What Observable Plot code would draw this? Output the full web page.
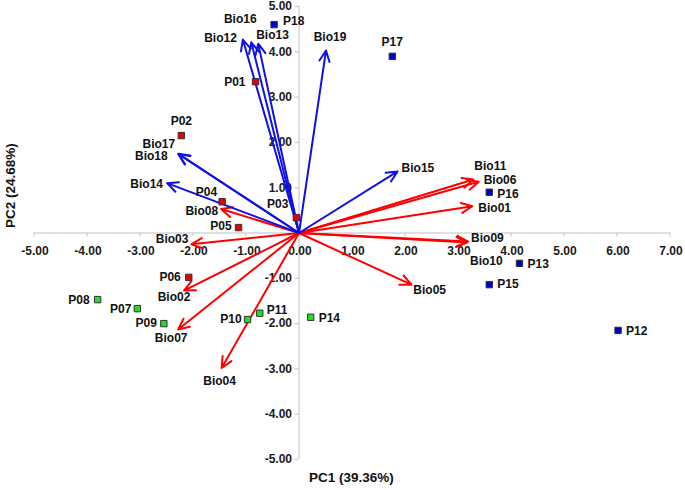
<!DOCTYPE html>
<html>
<head>
<meta charset="utf-8">
<script src="https://cdn.jsdelivr.net/npm/d3@7"></script>
<script src="https://cdn.jsdelivr.net/npm/@observablehq/plot@0.6"></script>
<style>
  html, body { margin: 0; padding: 0; background: #fff; }
  #chart svg { display: block; }
</style>
</head>
<body>
<div id="chart"></div>
<script>
// ---- Data: sample scores (PC1, PC2) ----
const sampleNames = ["P01","P02","P03","P04","P05","P06","P07","P08","P09","P10","P11","P12","P13","P14","P15","P16","P17","P18"];
const samplePC1 = [-0.82,-2.22,-0.05,-1.45,-1.14,-2.08,-3.05,-3.80,-2.55,-0.97,-0.74,6.02,4.16,0.22,3.59,3.59,1.76,-0.47];
const samplePC2 = [3.34,2.15,0.34,0.69,0.12,-0.98,-1.67,-1.47,-2.00,-1.91,-1.77,-2.15,-0.67,-1.86,-1.14,0.90,3.90,4.60];
const sampleGroup = ["red","red","red","red","red","red","green","green","green","green","green","blue","blue","green","blue","blue","blue","blue"];

// ---- Data: variable loadings (arrow ends) ----
const varNames = ["Bio01","Bio02","Bio03","Bio04","Bio05","Bio06","Bio07","Bio08","Bio09","Bio10","Bio11","Bio12","Bio13","Bio14","Bio15","Bio16","Bio17","Bio18","Bio19"];
const varPC1 = [3.27,-2.17,-2.03,-1.46,2.12,3.39,-2.28,-1.47,3.19,3.17,3.29,-1.06,-0.77,-2.49,1.86,-0.90,-2.28,-2.27,0.51];
const varPC2 = [0.59,-1.27,-0.25,-2.98,-1.14,1.13,-2.13,0.53,-0.19,-0.21,1.18,4.27,4.18,1.10,1.36,4.21,1.75,1.74,4.03];
const varType = ["temp","temp","temp","temp","temp","temp","temp","temp","temp","temp","temp","prec","prec","prec","prec","prec","prec","prec","prec"];

// ---- Axis ticks ----
const xTicks = [-5,-4,-3,-2,-1,0,1,2,3,4,5,6,7];
const yTicks = [-5,-4,-3,-2,-1,0,1,2,3,4,5];
const xTitle = "PC1 (39.36%)";
const yTitle = "PC2 (24.68%)";

// ---- Label placement (pixel offsets + anchor) ----
const sampleLabelPlace = {
  P01:[-10,0,"end"], P02:[0,-14,"middle"], P03:[-8,-13,"end"], P04:[-5,-10,"end"], P05:[-7,-1,"end"],
  P06:[-8,0,"end"], P07:[-6,1,"end"], P08:[-8,1,"end"], P09:[-7,0,"end"], P10:[-6,0,"end"],
  P11:[7,-3,"start"], P12:[8,1,"start"], P13:[8,1,"start"], P14:[8,1,"start"], P15:[8,0,"start"],
  P16:[8,2,"start"], P17:[0,-14,"middle"], P18:[9,-3,"start"]
};
const varLabelPlace = {
  Bio01:[6,2,"start"], Bio02:[-10,7,"middle"], Bio03:[-3,-5,"end"], Bio04:[-2,13,"middle"], Bio05:[2,6,"start"],
  Bio06:[5,-2,"start"], Bio07:[-7,9,"middle"], Bio08:[-3,2,"end"], Bio09:[3,-3,"start"], Bio10:[3,19,"start"],
  Bio11:[1,-13,"start"], Bio12:[-6,-1,"end"], Bio13:[-2,-8,"start"], Bio14:[-4,1,"end"], Bio15:[4,-3,"start"],
  Bio16:[-11,-23,"middle"], Bio17:[-3,-10,"end"], Bio18:[-11,2,"end"], Bio19:[4,-13,"middle"]
};

const pointFill = {red:"#ee0000", green:"#22dd22", blue:"#0000cc"};
const arrowColor = {temp:"#ff0000", prec:"#1010e8"};

const samples = sampleNames.map((n,i) => ({name:n, pc1:samplePC1[i], pc2:samplePC2[i], group:sampleGroup[i]}));
const vars = varNames.map((n,i) => ({name:n, pc1:varPC1[i], pc2:varPC2[i], type:varType[i]}));

const W = 685, H = 490;
const mL = 33.5, mR = 15.5, mT = 6, mB = 31;
const xDom = [-5,7], yDom = [-5,5];
const pxPerY = (H - mT - mB) / (yDom[1]-yDom[0]);
const pxPerX = (W - mL - mR) / (xDom[1]-xDom[0]);
const tickLen = 4;

const font = {fontFamily:"'Liberation Sans', Arial, sans-serif", fontWeight:"bold", fontSize:12};
const axisGray = "#d4d4d4";

function placedText(data, place) {
  // one text mark per item so each can carry its own pixel offset
  return data.map(d => Plot.text([d], {
    x: "pc1", y: "pc2", text: "name",
    textAnchor: place[d.name][2], dx: place[d.name][0], dy: place[d.name][1],
    ...font, fill: "#111"
  }));
}

const chart = Plot.plot({
  width: W, height: H,
  marginLeft: mL, marginRight: mR, marginTop: mT, marginBottom: mB,
  x: {domain: xDom, axis: null},
  y: {domain: yDom, axis: null},
  marks: [
    // axes crossing at origin
    Plot.ruleY([0], {x1: xDom[0], x2: xDom[1], stroke: axisGray, strokeWidth: 1.5}),
    Plot.ruleX([0], {y1: yDom[0], y2: yDom[1], stroke: axisGray, strokeWidth: 1.5}),
    Plot.ruleX(xTicks, {x: d => d, y1: 0, y2: -tickLen / pxPerY, stroke: axisGray, strokeWidth: 1.5}),
    Plot.ruleY(yTicks, {y: d => d, x1: 0, x2: -tickLen / pxPerX, stroke: axisGray, strokeWidth: 1.5}),
    Plot.text(xTicks, {x: d => d, y: 0, dy: 18, dx: 1, text: d => d.toFixed(2), ...font, fill: "#1a1a1a"}),
    Plot.text(yTicks.filter(d => d !== 0), {x: 0, y: d => d, dx: -7, textAnchor: "end", text: d => d.toFixed(2), ...font, fill: "#1a1a1a"}),
    Plot.text([xTitle], {x: 0, frameAnchor: "bottom", textAnchor: "start", dx: 10, dy: 22, text: d => d, ...font, fontSize: 13.5, fill: "#111"}),
    Plot.text([yTitle], {y: 0, frameAnchor: "left", rotate: -90, dx: -23, dy: -5, text: d => d, ...font, fontSize: 13.5, fill: "#111"}),
    // loading arrows
    Plot.arrow(vars, {x1: 0, y1: 0, x2: "pc1", y2: "pc2", stroke: d => arrowColor[d.type], strokeWidth: 2, headLength: 9, headAngle: 50}),
    // sample points
    Plot.dot(samples, {x: "pc1", y: "pc2", symbol: "square", r: 3.6, fill: d => pointFill[d.group], stroke: "#333", strokeWidth: 1}),
    ...placedText(vars, varLabelPlace),
    ...placedText(samples, sampleLabelPlace)
  ]
});

document.getElementById("chart").appendChild(chart);
</script>
</body>
</html>
